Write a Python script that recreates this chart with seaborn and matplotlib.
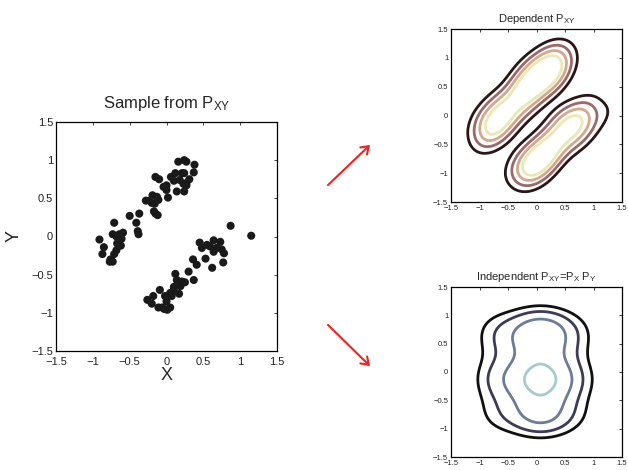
import numpy as np
import pandas as pd
import matplotlib
matplotlib.use("Agg")
import matplotlib.pyplot as plt
from matplotlib.patches import FancyArrowPatch
import seaborn as sns

# ---- data ----
x_upper = [-0.91, -0.85, -0.87, -0.71, -0.73, -0.68, -0.64, -0.59, -0.67, -0.62,
           -0.68, -0.71, -0.76, -0.77, -0.73, -0.61, -0.50, -0.41, -0.37, -0.39,
           -0.38, -0.28, -0.23, -0.19, -0.20, -0.16, -0.17, -0.12, -0.15, -0.15,
           -0.10, -0.11, -0.13, -0.04, 0.00, 0.00, 0.02, 0.06, 0.10, 0.14,
           0.16, 0.24, 0.27, 0.38, 0.21, 0.24, 0.37, 0.31, 0.27, 0.23,
           0.27, 0.24, 0.12, 0.18]
y_upper = [-0.04, -0.14, -0.23, 0.18, 0.03, 0.00, 0.03, 0.05, -0.09, -0.12,
           -0.18, -0.23, -0.30, -0.33, -0.33, -0.03, 0.27, 0.18, 0.30, 0.07,
           0.03, 0.47, 0.47, 0.54, 0.44, 0.43, 0.33, 0.28, 0.30, 0.78,
           0.75, 0.48, 0.52, 0.65, 0.67, 0.61, 0.51, 0.78, 0.73, 0.59,
           0.98, 1.00, 0.98, 0.94, 0.83, 0.83, 0.84, 0.75, 0.70, 0.69,
           0.67, 0.59, 0.83, 0.74]
x_lower = [0.45, 0.55, 0.64, 0.73, 0.48, 0.59, 0.68, 0.75, 0.64, 0.78,
           0.77, 0.62, 0.87, 1.15, 0.53, 0.36, 0.41, 0.37, 0.30, 0.12,
           0.14, 0.21, 0.25, 0.19, 0.10, 0.17, 0.05, 0.00, -0.02, 0.01,
           -0.09, -0.18, -0.26, -0.20, -0.11, -0.06, -0.03, 0.05, 0.07, 0.10]
y_lower = [-0.08, -0.11, -0.05, -0.07, -0.15, -0.13, -0.15, -0.17, -0.20, -0.22,
           -0.34, -0.41, 0.14, 0.01, -0.29, -0.30, -0.37, -0.57, -0.46, -0.49,
           -0.57, -0.59, -0.60, -0.65, -0.66, -0.75, -0.93, -0.85, -0.78, -0.96,
           -0.70, -0.78, -0.83, -0.88, -0.93, -0.93, -0.95, -0.74, -0.78, -0.70]

tick_vals = [-1.5, -1, -0.5, 0, 0.5, 1, 1.5]
tick_labels = ["\u22121.5", "\u22121", "\u22120.5", "0", "0.5", "1", "1.5"]

# contour levels as fractions of each density's maximum
dep_levels = [0.07, 0.17, 0.31, 0.48]
ind_levels = [0.20, 0.33, 0.53, 0.85]
dep_colors = ["#2a1616", "#9c6a6a", "#d3a88c", "#e9e9b6"]
ind_colors = ["#101010", "#3c3c5a", "#6c7c98", "#a4cccc"]
bw_along, bw_across = 0.25, 0.16   # joint kernel widths (along / across the diagonal)
bw_x, bw_y = 0.31, 0.24            # marginal kernel widths

sample = pd.DataFrame({"x": x_upper + x_lower, "y": y_upper + y_lower})
xs = sample["x"].to_numpy()
ys = sample["y"].to_numpy()

# Gaussian KDE of the sample (joint) and product of its marginals
grid = np.linspace(-1.5, 1.5, 301)
GX, GY = np.meshgrid(grid, grid)
joint = np.zeros_like(GX)
for xi, yi in zip(xs, ys):
    du = ((GX - xi) + (GY - yi)) / np.sqrt(2)
    dv = ((GX - xi) - (GY - yi)) / np.sqrt(2)
    joint += np.exp(-du ** 2 / (2 * bw_along ** 2) - dv ** 2 / (2 * bw_across ** 2))
px = np.exp(-(grid[None, :] - xs[:, None]) ** 2 / (2 * bw_x ** 2)).sum(0)
py = np.exp(-(grid[None, :] - ys[:, None]) ** 2 / (2 * bw_y ** 2)).sum(0)
indep = np.outer(py, px)

sns.set_theme(style="white")
plt.rcParams["font.family"] = ["Liberation Sans", "DejaVu Sans"]
plt.rcParams["mathtext.default"] = "regular"

W, H = 628, 470
fig = plt.figure(figsize=(W / 100, H / 100), dpi=100)


def px_axes(x0, y0, x1, y1):
    return fig.add_axes([x0 / W, 1 - y1 / H, (x1 - x0) / W, (y1 - y0) / H])


def style(ax, fs, padx=2):
    ax.set_xlim(-1.5, 1.5)
    ax.set_ylim(-1.5, 1.5)
    ax.set_xticks(tick_vals)
    ax.set_yticks(tick_vals)
    ax.set_xticklabels(tick_labels)
    ax.set_yticklabels(tick_labels)
    ax.tick_params(direction="in", length=2.5, width=0.6, top=True, right=True,
                   labelsize=fs, colors="#222222", pad=2)
    ax.tick_params(axis="x", pad=padx)
    for s in ax.spines.values():
        s.set_color("black")
        s.set_linewidth(0.9)
        s.set_visible(True)


ax1 = px_axes(56, 122, 277, 351)
sns.scatterplot(data=sample, x="x", y="y", ax=ax1, color="#1a1a1a", s=34,
                edgecolor="none", legend=False)
style(ax1, 8, padx=4)
ax1.set_xlabel("X", fontsize=13, labelpad=0)
ax1.set_ylabel("Y", fontsize=13, labelpad=6)
ax1.set_title("Sample from P$_{XY}$", fontsize=12, pad=10)

ax2 = px_axes(451, 29, 622, 202)
ax2.contour(grid, grid, joint, levels=np.array(dep_levels) * joint.max(),
            colors=dep_colors, linewidths=2.0)
style(ax2, 5.5)
ax2.set_title("Dependent P$_{XY}$", fontsize=8, pad=5)

ax3 = px_axes(451, 287, 622, 457)
ax3.contour(grid, grid, indep, levels=np.array(ind_levels) * indep.max(),
            colors=ind_colors, linewidths=2.0)
style(ax3, 5.5)
ax3.set_title("Independent P$_{XY}$=P$_{X}$ P$_{Y}$", fontsize=8, pad=5)

for (xa, ya), (xb, yb) in [((326, 187), (372, 143)), ((326, 323), (372, 368))]:
    arr = FancyArrowPatch((xa / W, 1 - ya / H), (xb / W, 1 - yb / H),
                          transform=fig.transFigure, color="#ee2222", lw=1.5,
                          arrowstyle="->,head_length=5,head_width=3.5")
    fig.add_artist(arr)

fig.savefig("out.png", dpi=100)
